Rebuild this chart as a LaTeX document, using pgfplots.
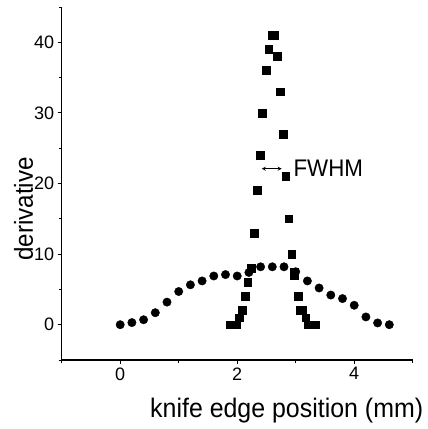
\documentclass[border=0pt]{standalone}
\usepackage{fontspec}
\setmainfont{Liberation Sans}
\newfontfamily\condfont[FakeStretch=0.93]{Liberation Sans}
\usepackage{pgfplots}
\pgfplotsset{compat=1.18}
\begin{document}
\begin{tikzpicture}
\begin{axis}[
  name=ax,
  scale only axis, width=351pt, height=353pt,
  xmin=-1, xmax=5, ymin=-5, ymax=45,
  axis lines=left, axis line style={-, line width=1.1pt},
  xtick={0,2,4}, ytick={0,10,20,30,40},
  minor xtick={-1,1,3,5}, minor ytick={-5,5,15,25,35,45},
  tick align=outside, major tick length=4pt, minor tick length=3pt,
  tick style={black, line width=0.9pt},
  ticklabel style={font=\fontsize{18}{18}\selectfont},
  /pgf/number format/assume math mode=true,
  clip=false,
]
\addplot[only marks, mark=*, mark size=4.2pt, black] coordinates {
(0,0) (0.2,0.3) (0.4,0.7) (0.6,1.7) (0.8,3.2) (1.0,4.7) (1.2,5.65) (1.4,6.2)
(1.6,6.9) (1.8,7.1) (2.0,6.9) (2.2,7.4) (2.4,8.2) (2.6,8.2) (2.8,8.2) (3.0,7.5)
(3.2,6.2) (3.4,5.2) (3.6,4.2) (3.8,3.7) (4.0,2.75) (4.2,1.1) (4.4,0.25) (4.6,0)
};
\addplot[only marks, mark=square*, mark size=3.9pt, black] coordinates {
(1.88,0) (1.93,0) (1.99,0) (2.04,1) (2.09,2) (2.14,4) (2.18,6) (2.24,8)
(2.29,13) (2.34,19) (2.39,24) (2.43,30) (2.49,36) (2.54,39) (2.59,41) (2.64,41)
(2.69,38) (2.73,33) (2.78,27) (2.83,21) (2.88,15) (2.93,10) (2.97,7.5) (2.98,7)
(3.04,4) (3.08,2) (3.12,2) (3.17,1) (3.22,0) (3.28,0) (3.34,0)
};
\draw[<->, >=stealth, line width=0.8pt] (axis cs:2.42,22.1) -- (axis cs:2.76,22.1);
\node[anchor=west, inner sep=0pt, font=\fontsize{24}{24}\condfont] at (axis cs:2.96,22.1) {FWHM};
\node[anchor=base west, inner sep=0pt, font=\fontsize{26.8}{26.8}\condfont] at ([yshift=-57pt]axis cs:0.51,-5) {knife edge position (mm)};
\node[anchor=base, rotate=90, inner sep=0pt, font=\fontsize{26}{26}\condfont] at ([xshift=-28.7pt]axis cs:-1,16.4) {derivative};
\end{axis}
\pgfresetboundingbox
\path[use as bounding box] ([xshift=-61.7pt,yshift=-69pt]ax.south west) rectangle ([xshift=15pt,yshift=7pt]ax.north east);
\end{tikzpicture}
\end{document}
